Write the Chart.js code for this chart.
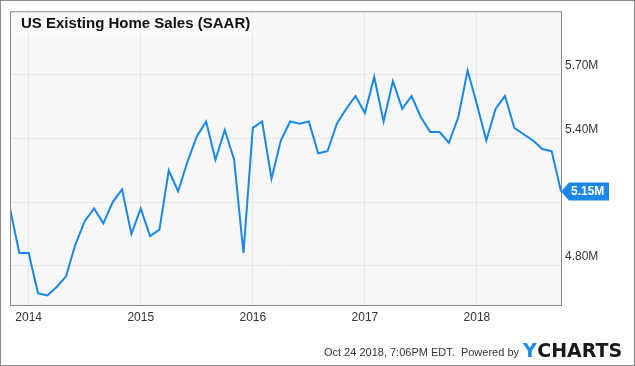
<!DOCTYPE html>
<html>
<head>
<meta charset="utf-8">
<title>US Existing Home Sales (SAAR)</title>
<script src="https://cdn.jsdelivr.net/npm/chart.js@4.4.0/dist/chart.umd.min.js"></script>
<style>
  html, body { margin: 0; padding: 0; background: #fff; }
  #wrap { width: 635px; height: 366px; }
</style>
</head>
<body>
<div id="wrap"><canvas id="chart" width="635" height="366"></canvas></div>
<script>
// monthly readings, SAAR in millions
const months = [
  '2013-10', '2013-11', '2013-12',
  '2014-01', '2014-02', '2014-03', '2014-04', '2014-05', '2014-06', '2014-07', '2014-08', '2014-09', '2014-10', '2014-11', '2014-12',
  '2015-01', '2015-02', '2015-03', '2015-04', '2015-05', '2015-06', '2015-07', '2015-08', '2015-09', '2015-10', '2015-11', '2015-12',
  '2016-01', '2016-02', '2016-03', '2016-04', '2016-05', '2016-06', '2016-07', '2016-08', '2016-09', '2016-10', '2016-11', '2016-12',
  '2017-01', '2017-02', '2017-03', '2017-04', '2017-05', '2017-06', '2017-07', '2017-08', '2017-09', '2017-10', '2017-11', '2017-12',
  '2018-01', '2018-02', '2018-03', '2018-04', '2018-05', '2018-06', '2018-07', '2018-08', '2018-09'
];
const sales = [
  5.07, 4.86, 4.86,
  4.67, 4.66, 4.70, 4.75, 4.90, 5.01, 5.07, 5.00, 5.10, 5.16, 4.95, 5.07,
  4.94, 4.97, 5.25, 5.15, 5.29, 5.41, 5.48, 5.30, 5.44, 5.30, 4.86, 5.45,
  5.48, 5.21, 5.39, 5.48, 5.47, 5.48, 5.33, 5.34, 5.47, 5.54, 5.60, 5.52,
  5.69, 5.48, 5.67, 5.54, 5.60, 5.50, 5.43, 5.43, 5.38, 5.50, 5.72, 5.56,
  5.39, 5.54, 5.60, 5.45, 5.42, 5.39, 5.35, 5.34, 5.15
];
const yearTicks = [2014, 2015, 2016, 2017, 2018];
const valueTicks = [4.80, 5.10, 5.40, 5.70];
const titleText = 'US Existing Home Sales (SAAR)';
const stampText = 'Oct 24 2018, 7:06PM EDT.  Powered by';

const BLUE = '#1b87e6';
const FONT = '"Liberation Sans", Arial, sans-serif';

// month end sits on the first of the next month; 0 = Jan 1 2014
function monthPos(s) {
  const [y, m] = s.split('-').map(Number);
  return (y - 2014) * 12 + m;
}
const points = months.map((m, i) => ({ x: monthPos(m), y: sales[i] }));
const lastValue = sales[sales.length - 1];

const ychartsFrame = {
  id: 'ychartsFrame',
  beforeDraw(chart) {
    const { ctx, chartArea: a } = chart;
    ctx.save();
    ctx.fillStyle = '#fff';
    ctx.fillRect(0, 0, chart.width, chart.height);
    ctx.fillStyle = '#f7f7f7';
    ctx.fillRect(a.left, a.top, a.right - a.left, a.bottom - a.top);
    ctx.restore();
  },
  afterDraw(chart) {
    const { ctx, chartArea: a } = chart;
    ctx.save();

    // title box
    ctx.fillStyle = 'rgba(255,255,255,0.3)';
    ctx.fillRect(a.left + 1, a.top + 1, 246, 25);
    ctx.fillStyle = '#111';
    ctx.font = 'bold 15px ' + FONT;
    ctx.textBaseline = 'alphabetic';
    ctx.textAlign = 'left';
    ctx.fillText(titleText, 21, 28);

    // plot frame
    ctx.strokeStyle = '#8a8a8a';
    ctx.lineWidth = 1;
    ctx.strokeRect(a.left + 0.5, a.top + 0.5, a.right - a.left, a.bottom - a.top);

    // last value flag
    const meta = chart.getDatasetMeta(0);
    const py = meta.data[meta.data.length - 1].y;
    const x0 = a.right;
    ctx.fillStyle = BLUE;
    ctx.beginPath();
    ctx.moveTo(x0, py);
    ctx.lineTo(x0 + 8, py - 9);
    ctx.lineTo(x0 + 48, py - 9);
    ctx.lineTo(x0 + 48, py + 9);
    ctx.lineTo(x0 + 8, py + 9);
    ctx.closePath();
    ctx.fill();
    ctx.fillStyle = '#fff';
    ctx.font = 'bold 12px ' + FONT;
    ctx.textBaseline = 'middle';
    ctx.fillText(lastValue.toFixed(2) + 'M', x0 + 10, py + 0.5);

    // footer
    ctx.textBaseline = 'alphabetic';
    ctx.textAlign = 'right';
    ctx.fillStyle = '#333';
    ctx.font = '11px ' + FONT;
    ctx.fillText(stampText, 519, 356);
    ctx.textAlign = 'left';
    ctx.font = 'bold 19px "DejaVu Sans", sans-serif';
    ctx.fillStyle = BLUE;
    ctx.fillText('Y', 523, 357);
    const yw = ctx.measureText('Y').width;
    ctx.fillStyle = '#1a1a1a';
    ctx.fillText('CHARTS', 523 + yw + 0.5, 357);

    // outer border
    ctx.strokeStyle = '#8a8a8a';
    ctx.strokeRect(0.5, 0.5, chart.width - 1, chart.height - 1);
    ctx.restore();
  }
};

new Chart(document.getElementById('chart'), {
  type: 'line',
  data: {
    datasets: [{
      data: points,
      borderColor: BLUE,
      borderWidth: 2,
      pointRadius: 0,
      tension: 0,
      fill: false
    }]
  },
  options: {
    responsive: false,
    animation: false,
    devicePixelRatio: 1,
    layout: { padding: { left: 10, top: 10, right: 0, bottom: 0 } },
    plugins: { legend: { display: false }, tooltip: { enabled: false } },
    scales: {
      x: {
        type: 'linear',
        min: -2,
        max: 57,
        afterBuildTicks: s => { s.ticks = yearTicks.map(y => ({ value: (y - 2014) * 12 })); },
        afterFit: s => { s.height = 61; },
        grid: { color: '#e6e6e6', drawTicks: false },
        border: { display: false },
        ticks: {
          color: '#333',
          font: { family: FONT, size: 12 },
          padding: 5,
          maxRotation: 0,
          callback: v => String(2014 + v / 12)
        }
      },
      y: {
        position: 'right',
        min: 4.615,
        max: 6.0,
        afterBuildTicks: s => { s.ticks = valueTicks.map(v => ({ value: v })); },
        afterFit: s => { s.width = 74; },
        grid: { color: '#e6e6e6', drawTicks: false },
        border: { display: false },
        ticks: {
          color: '#333',
          font: { family: FONT, size: 12 },
          padding: 4,
          labelOffset: -9,
          callback: v => Math.abs(v - lastValue) < 0.1 ? '' : v.toFixed(2) + 'M'
        }
      }
    }
  },
  plugins: [ychartsFrame]
});
</script>
</body>
</html>
